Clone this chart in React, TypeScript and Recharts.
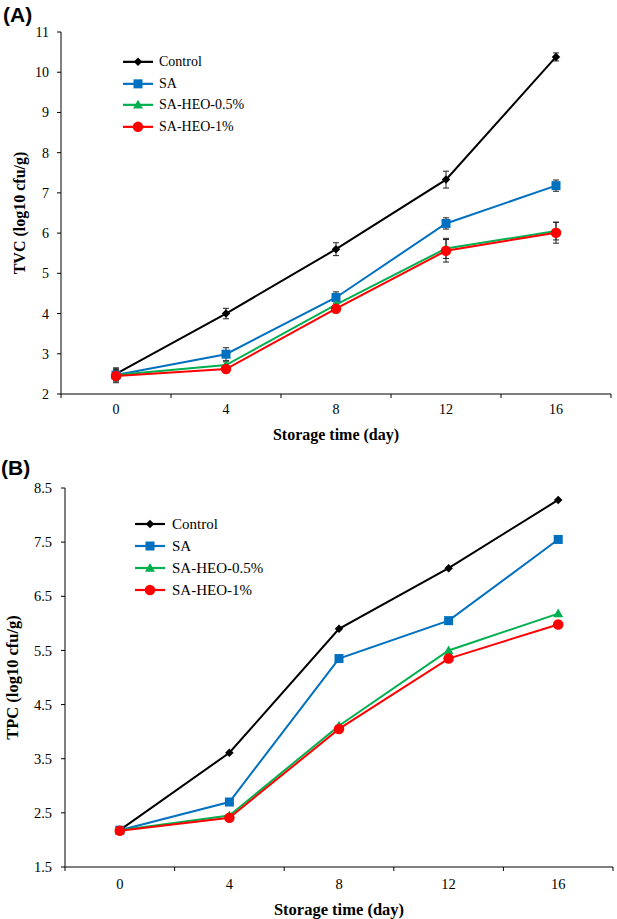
import React from 'react';
import { LineChart, Line, XAxis, YAxis, ErrorBar, Legend, Label } from 'recharts';

// ---------- data ----------
const days = [0, 4, 8, 12, 16];
const xTickValues = [-2, 0, 2, 4, 6, 8, 10, 12, 14, 16, 18];

// Panel A: TVC
const tvcControl = [2.5, 4.0, 5.6, 7.33, 10.38];
const tvcControlErr = [0.15, 0.13, 0.16, 0.21, 0.1];
const tvcSA = [2.47, 2.99, 4.4, 6.24, 7.18];
const tvcSAErr = [0.15, 0.16, 0.14, 0.14, 0.14];
const tvcHEO05 = [2.47, 2.72, 4.22, 5.62, 6.05];
const tvcHEO05Err = [0.12, 0.08, 0.1, 0.25, 0.22];
const tvcHEO1 = [2.45, 2.62, 4.12, 5.56, 6.01];
const tvcHEO1Err = [0.17, 0.06, 0.1, 0.28, 0.26];
const tvcTicks = [2, 3, 4, 5, 6, 7, 8, 9, 10, 11];

// Panel B: TPC
const tpcControl = [2.18, 3.61, 5.9, 7.02, 8.28];
const tpcSA = [2.18, 2.7, 5.35, 6.05, 7.55];
const tpcHEO05 = [2.18, 2.45, 4.11, 5.5, 6.18];
const tpcHEO1 = [2.17, 2.41, 4.05, 5.35, 5.98];
const tpcTicks = [1.5, 2.5, 3.5, 4.5, 5.5, 6.5, 7.5, 8.5];

const seriesNames = ['Control', 'SA', 'SA-HEO-0.5%', 'SA-HEO-1%'];

const tvcRows = days.map((d, i) => ({
  day: d,
  control: tvcControl[i],
  controlErr: tvcControlErr[i],
  sa: tvcSA[i],
  saErr: tvcSAErr[i],
  heo05: tvcHEO05[i],
  heo05Err: tvcHEO05Err[i],
  heo1: tvcHEO1[i],
  heo1Err: tvcHEO1Err[i],
}));

const tpcRows = days.map((d, i) => ({
  day: d,
  control: tpcControl[i],
  sa: tpcSA[i],
  heo05: tpcHEO05[i],
  heo1: tpcHEO1[i],
}));

// ---------- styling ----------
const SERIF = '"Liberation Serif", "Times New Roman", serif';
const SANS = '"Liberation Sans", Arial, sans-serif';

const seriesStyle: Record<string, { color: string; shape: string; size: number }> = {
  control: { color: '#000000', shape: 'diamond', size: 8.5 },
  sa: { color: '#0070C0', shape: 'square', size: 9 },
  heo05: { color: '#00B050', shape: 'triangle', size: 10 },
  heo1: { color: '#FF0000', shape: 'circle', size: 10.5 },
};
const seriesKeys = ['control', 'sa', 'heo05', 'heo1'];

function Marker({ shape, cx, cy, color, size }: any) {
  const s = size / 2;
  if (cx == null || cy == null) return null;
  switch (shape) {
    case 'diamond':
      return <polygon points={`${cx},${cy - s} ${cx + s},${cy} ${cx},${cy + s} ${cx - s},${cy}`} fill={color} />;
    case 'square':
      return <rect x={cx - s} y={cy - s} width={size} height={size} fill={color} />;
    case 'triangle':
      return <polygon points={`${cx},${cy - s} ${cx + s},${cy + s * 0.75} ${cx - s},${cy + s * 0.75}`} fill={color} />;
    default:
      return <circle cx={cx} cy={cy} r={s} fill={color} />;
  }
}

const makeDot = (key: string) => (p: any) => {
  const st = seriesStyle[key];
  return <Marker key={`${key}-${p.index}`} shape={st.shape} cx={p.cx} cy={p.cy} color={st.color} size={st.size} />;
};

const makeXTick = (labelOffset: number, fontSize: number) => (p: any) => {
  const { x, y, payload } = p;
  const v = payload.value;
  if (v % 4 !== 0) {
    return <line x1={x} x2={x} y1={y} y2={y + 4} stroke="#000" strokeWidth={1} />;
  }
  return (
    <text x={x} y={y + labelOffset} textAnchor="middle" fontSize={fontSize} fontFamily={SERIF} fill="#000">
      {String(v)}
    </text>
  );
};

const makeLegend = (fontSize: number, rowH: number, gap: number) => (props: any) => {
  const payload = props.payload || [];
  return (
    <div style={{ fontFamily: SERIF, fontSize, color: '#000' }}>
      {payload.map((entry: any) => {
        const key = entry.dataKey as string;
        const st = seriesStyle[key];
        return (
          <div key={key} style={{ display: 'flex', alignItems: 'center', height: rowH, lineHeight: `${rowH}px` }}>
            <svg width={30} height={rowH} style={{ marginRight: gap, display: 'block' }}>
              <line x1={0} x2={30} y1={rowH / 2} y2={rowH / 2} stroke={st.color} strokeWidth={2.2} />
              <Marker shape={st.shape} cx={15} cy={rowH / 2} color={st.color} size={st.size} />
            </svg>
            <span style={{ whiteSpace: 'nowrap', fontFamily: SERIF }}>{entry.value}</span>
          </div>
        );
      })}
    </div>
  );
};

const yTitle = (text: string, dx: number, fontSize: number) => (p: any) => {
  const vb = p.viewBox;
  const cx = vb.x + dx;
  const cy = vb.y + vb.height / 2;
  return (
    <text
      x={cx}
      y={cy}
      transform={`rotate(-90 ${cx} ${cy})`}
      textAnchor="middle"
      dominantBaseline="central"
      fontFamily={SERIF}
      fontWeight="bold"
      fontSize={fontSize}
      fill="#000"
    >
      {text}
    </text>
  );
};

const xTitle = (text: string, dy: number, fontSize: number) => (p: any) => {
  const vb = p.viewBox;
  return (
    <text
      x={vb.x + vb.width / 2}
      y={vb.y + dy}
      textAnchor="middle"
      fontFamily={SERIF}
      fontWeight="bold"
      fontSize={fontSize}
      fill="#000"
    >
      {text}
    </text>
  );
};

export default function App() {
  return (
    <div style={{ position: 'absolute', left: 0, top: 0, width: 617, height: 919, background: '#fff', overflow: 'hidden' }}>
      {/* Panel A */}
      <div style={{ position: 'absolute', left: 0, top: 0 }}>
        <LineChart width={617} height={450} data={tvcRows} margin={{ top: 32, right: 6, bottom: 0, left: 0 }}>
          <XAxis
            dataKey="day"
            type="number"
            domain={[-2, 18]}
            ticks={xTickValues}
            interval={0}
            allowDataOverflow
            tickLine={false}
            tickSize={0}
            tickMargin={0}
            height={56}
            axisLine={{ stroke: '#000', strokeWidth: 1 }}
            tick={makeXTick(19.5, 14)}
          >
            <Label content={xTitle('Storage time (day)', 46, 16)} />
          </XAxis>
          <YAxis
            type="number"
            domain={[2, 11]}
            ticks={tvcTicks}
            interval={0}
            width={61}
            tickSize={4}
            tickMargin={8}
            axisLine={{ stroke: '#000', strokeWidth: 1 }}
            tickLine={{ stroke: '#000', strokeWidth: 1 }}
            tick={{ fontSize: 14, fill: '#000', fontFamily: SERIF }}
          >
            <Label content={yTitle('TVC (log10 cfu/g)', 19, 16)} />
          </YAxis>
          <Legend
            layout="vertical"
            align="center"
            verticalAlign="middle"
            wrapperStyle={{ top: 51, left: 123, width: 'auto' }}
            content={makeLegend(14, 21.7, 6)}
          />
          {seriesKeys.map((k, i) => (
            <Line
              key={k}
              dataKey={k}
              name={seriesNames[i]}
              stroke={seriesStyle[k].color}
              strokeWidth={2}
              dot={makeDot(k)}
              activeDot={false}
              isAnimationActive={false}
            >
              <ErrorBar dataKey={`${k}Err`} direction="y" width={3} stroke="#222" strokeWidth={1} isAnimationActive={false} />
            </Line>
          ))}
        </LineChart>
      </div>

      {/* Panel B */}
      <div style={{ position: 'absolute', left: 0, top: 450 }}>
        <LineChart width={617} height={469} data={tpcRows} margin={{ top: 38, right: 4, bottom: 0, left: 0 }}>
          <XAxis
            dataKey="day"
            type="number"
            domain={[-2, 18]}
            ticks={xTickValues}
            interval={0}
            allowDataOverflow
            tickLine={false}
            tickSize={0}
            tickMargin={0}
            height={52}
            axisLine={{ stroke: '#000', strokeWidth: 1 }}
            tick={makeXTick(22, 14.5)}
          >
            <Label content={xTitle('Storage time (day)', 48, 16.5)} />
          </XAxis>
          <YAxis
            type="number"
            domain={[1.5, 8.5]}
            ticks={tpcTicks}
            interval={0}
            width={65}
            tickSize={4}
            tickMargin={9}
            axisLine={{ stroke: '#000', strokeWidth: 1 }}
            tickLine={{ stroke: '#000', strokeWidth: 1 }}
            tick={{ fontSize: 14.5, fill: '#000', fontFamily: SERIF }}
            tickFormatter={(v: number) => v.toFixed(1)}
          >
            <Label content={yTitle('TPC (log10 cfu/g)', 12, 16.5)} />
          </YAxis>
          <Legend
            layout="vertical"
            align="center"
            verticalAlign="middle"
            wrapperStyle={{ top: 63, left: 135, width: 'auto' }}
            content={makeLegend(15, 22, 7)}
          />
          {seriesKeys.map((k, i) => (
            <Line
              key={k}
              dataKey={k}
              name={seriesNames[i]}
              stroke={seriesStyle[k].color}
              strokeWidth={2}
              dot={makeDot(k)}
              activeDot={false}
              isAnimationActive={false}
            />
          ))}
        </LineChart>
      </div>

      {/* Panel labels */}
      <svg width={617} height={919} style={{ position: 'absolute', left: 0, top: 0, pointerEvents: 'none' }}>
        <text x={3} y={21.5} fontFamily={SANS} fontWeight="bold" fontSize={21} fill="#000">(A)</text>
        <text x={1} y={475} fontFamily={SANS} fontWeight="bold" fontSize={21} fill="#000">(B)</text>
      </svg>
    </div>
  );
}
